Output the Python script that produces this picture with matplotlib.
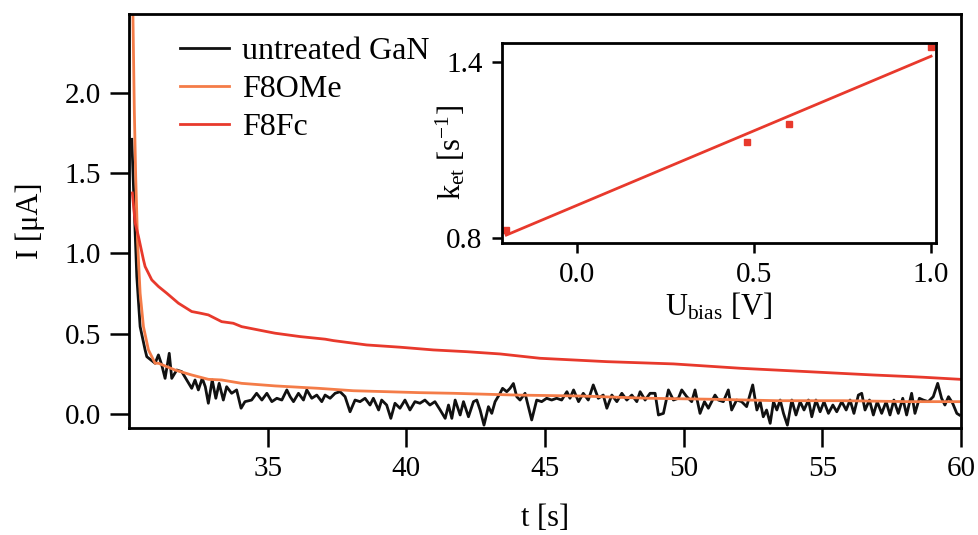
import matplotlib
matplotlib.use("Agg")
import matplotlib.pyplot as plt

plt.rcParams["font.family"] = ["Liberation Serif", "DejaVu Serif"]
plt.rcParams["mathtext.fontset"] = "custom"
plt.rcParams["mathtext.rm"] = "Liberation Serif"
plt.rcParams["mathtext.it"] = "Liberation Serif:italic"

# F8Fc (red)
t_fc = [30.12, 30.22, 30.34, 30.52, 30.58, 30.82, 31.06, 31.36, 31.78, 32.26, 32.56,
        32.86, 33.34, 33.76, 34.06, 34.97, 35.27, 36.17, 37.07, 37.37, 38.57, 39.77,
        40.97, 42.18, 43.38, 44.82, 47.23, 49.63, 52.03, 54.44, 56.84, 58.16,
        58.64, 59.97]
i_fc = [1.376, 1.19, 1.105, 0.96, 0.918, 0.835, 0.794, 0.752, 0.69, 0.638, 0.628,
        0.617, 0.575, 0.565, 0.544, 0.513, 0.503, 0.482, 0.466, 0.457, 0.430, 0.416,
        0.399, 0.388, 0.374, 0.347, 0.326, 0.312, 0.285, 0.264, 0.243, 0.233,
        0.229, 0.216]

# F8OMe (orange)
t_ome = [30.14, 30.19, 30.24, 30.31, 30.40, 30.52, 30.70, 30.94, 31.06, 31.66, 32.26,
         32.86, 33.34, 34.06, 35.27, 36.83, 38.09, 39.29, 40.49, 41.70, 42.90, 43.98,
         46.32, 48.73, 51.01, 53.36, 55.76, 58.16, 59.97]
i_ome = [2.49, 1.895, 1.48, 1.064, 0.752, 0.544, 0.399, 0.316, 0.316, 0.274, 0.243,
         0.216, 0.212, 0.191, 0.175, 0.160, 0.145, 0.139, 0.133, 0.129, 0.123, 0.118,
         0.112, 0.098, 0.092, 0.083, 0.083, 0.077, 0.077]

# untreated GaN (black)
t_gan = [30.10, 30.19, 30.28, 30.40, 30.58, 30.64, 30.94, 31.06, 31.18, 31.30, 31.45,
         31.54, 31.72, 31.90, 32.08, 32.26, 32.38, 32.50, 32.64, 32.75, 32.86, 33.00,
         33.13, 33.25, 33.40, 33.52, 33.70, 33.88, 34.04, 34.18, 34.42, 34.60, 34.79,
         34.97, 35.15, 35.33, 35.51, 35.69, 35.81, 35.93, 36.11, 36.29, 36.41, 36.59,
         36.77, 36.95, 37.07, 37.25, 37.43, 37.61, 37.79, 37.97, 38.15, 38.33, 38.51,
         38.69, 38.81, 39.00, 39.11, 39.29, 39.44, 39.59, 39.77, 39.95, 40.13, 40.31,
         40.49, 40.67, 40.85, 41.03, 41.22, 41.40, 41.52, 41.64, 41.76, 41.94, 42.06,
         42.24, 42.42, 42.54, 42.66, 42.80, 42.96, 43.08, 43.20, 43.38, 43.47, 43.62,
         43.74, 43.86, 43.98, 44.10, 44.28, 44.52, 44.70, 44.88, 45.06, 45.24, 45.42,
         45.60, 45.79, 45.90, 46.03, 46.21, 46.38, 46.56, 46.74, 46.92, 47.10, 47.23,
         47.41, 47.59, 47.77, 47.95, 48.13, 48.31, 48.43, 48.61, 48.79, 48.97, 49.09,
         49.27, 49.45, 49.63, 49.81, 49.93, 50.11, 50.29, 50.41, 50.59, 50.75, 50.89,
         51.07, 51.13, 51.25, 51.43, 51.61, 51.73, 51.91, 52.09, 52.27, 52.49, 52.64,
         52.76, 52.87, 52.99, 53.12, 53.24, 53.36, 53.48, 53.60, 53.74, 53.90, 54.05,
         54.20, 54.34, 54.50, 54.62, 54.77, 54.92, 55.06, 55.22, 55.38, 55.52, 55.70,
         55.86, 56.00, 56.14, 56.30, 56.42, 56.54, 56.70, 56.84, 56.98, 57.14, 57.30,
         57.44, 57.58, 57.74, 57.90, 58.04, 58.22, 58.34, 58.50, 58.64, 58.82, 59.00,
         59.16, 59.30, 59.42, 59.55, 59.70, 59.85, 59.94]
i_gan = [1.71, 1.27, 0.856, 0.544, 0.399, 0.357, 0.316, 0.368, 0.305, 0.222, 0.378,
         0.222, 0.274, 0.264, 0.212, 0.160, 0.212, 0.150, 0.222, 0.170, 0.067, 0.212,
         0.098, 0.191, 0.087, 0.170, 0.129, 0.150, 0.036, 0.077, 0.087, 0.129, 0.087,
         0.129, 0.077, 0.098, 0.087, 0.150, 0.108, 0.077, 0.129, 0.087, 0.150, 0.098,
         0.118, 0.077, 0.118, 0.098, 0.129, 0.139, 0.108, 0.014, 0.087, 0.077, 0.098,
         0.056, 0.098, 0.025, 0.087, 0.056, -0.027, 0.067, 0.036, 0.087, 0.025, 0.077,
         0.067, 0.087, 0.056, 0.077, 0.025, -0.027, 0.056, -0.027, 0.087, -0.006, 0.077,
         -0.017, 0.077, 0.087, 0.025, -0.069, 0.046, 0.004, 0.077, 0.129, 0.160, 0.139,
         0.160, 0.190, 0.108, 0.087, 0.129, -0.037, 0.087, 0.077, 0.098, 0.087, 0.098,
         0.087, 0.139, 0.098, 0.150, 0.077, 0.129, 0.087, 0.181, 0.098, 0.118, 0.036,
         0.118, 0.077, 0.129, 0.087, 0.118, 0.077, 0.139, 0.087, 0.129, 0.129, -0.006,
         0.004, 0.150, 0.087, 0.098, 0.150, 0.108, 0.077, 0.150, 0.004, 0.077, 0.036,
         0.098, 0.118, 0.087, 0.077, 0.150, 0.025, 0.087, 0.077, 0.046, 0.181, 0.025,
         0.077, -0.017, 0.025, -0.058, 0.077, 0.025, 0.087, 0.004, -0.069, 0.087, -0.006,
         0.077, 0.025, 0.087, -0.017, 0.087, 0.014, 0.077, 0.004, 0.056, 0.014, 0.077,
         0.025, 0.087, 0.004, 0.118, 0.129, 0.025, 0.087, -0.006, 0.077, 0.004, 0.077,
         -0.006, 0.087, 0.004, 0.098, -0.006, 0.129, 0.004, 0.098, 0.087, 0.077, 0.108,
         0.191, 0.098, 0.056, 0.108, 0.067, 0.004, -0.006]

# inset: rate constant vs bias
u_bias = [-0.20, 0.48, 0.60, 1.00]
k_et = [0.827, 1.129, 1.189, 1.453]
fit_u = [-0.20, 1.00]
fit_k = [0.810, 1.420]

black = "#111111"
orange = "#f47c48"
red = "#e8392c"

fig = plt.figure(figsize=(9.79, 5.35), dpi=100)
ax = fig.add_axes([0.1318, 0.2, 0.8498, 0.7738])
ax.plot(t_gan, i_gan, color=black, lw=2.0, label="untreated GaN")
ax.plot(t_ome, i_ome, color=orange, lw=2.0, label="F8OMe")
ax.plot(t_fc, i_fc, color=red, lw=2.0, label="F8Fc")
ax.set_xlim(30, 60)
ax.set_ylim(-0.087, 2.49)
ax.set_xticks([35, 40, 45, 50, 55, 60])
ax.set_yticks([0.0, 0.5, 1.0, 1.5, 2.0])
ax.set_yticklabels(["0.0", "0.5", "1.0", "1.5", "2.0"])
ax.tick_params(direction="out", length=14, width=1.8, labelsize=21, pad=6)
for s in ax.spines.values():
    s.set_linewidth(2.0)
ax.set_xlabel("t [s]", fontsize=22, labelpad=16)
ax.set_ylabel("I [μA]", fontsize=22, labelpad=14)
ax.legend(loc="upper left", bbox_to_anchor=(0.061, 0.945), frameon=False,
          fontsize=23, handlelength=1.53, handletextpad=0.41, labelspacing=0.27,
          borderpad=0, borderaxespad=0)

ins = fig.add_axes([0.5128, 0.5458, 0.4433, 0.3738])
ins.plot(fit_u, fit_k, color=red, lw=2.0)
ins.plot(u_bias, k_et, "s", color=red, ms=5, mec=red)
ins.set_xlim(-0.212, 1.014)
ins.set_ylim(0.783, 1.465)
ins.set_xticks([0.0, 0.5, 1.0])
ins.set_xticklabels(["0.0", "0.5", "1.0"])
ins.set_yticks([0.8, 1.4])
ins.set_yticklabels(["0.8", "1.4"])
ins.tick_params(direction="out", length=7, width=1.8, labelsize=21, pad=7)
for s in ins.spines.values():
    s.set_linewidth(2.0)
ins.set_xlabel(r"U$_{\mathrm{bias}}$ [V]", fontsize=22, labelpad=2)
ins.set_ylabel(r"k$_{\mathrm{et}}$ [s$^{-1}$]", fontsize=22)
ins.yaxis.set_label_coords(-0.08, 0.45)

fig.savefig("out.png", dpi=100)
